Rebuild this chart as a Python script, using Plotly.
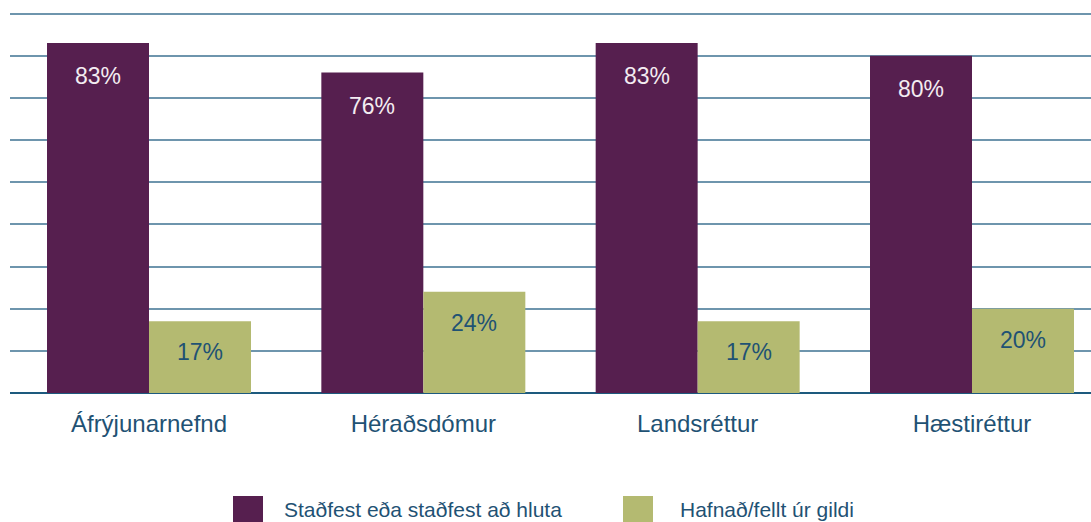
import plotly.graph_objects as go

categories = ["Áfrýjunarnefnd", "Héraðsdómur", "Landsréttur", "Hæstiréttur"]
confirmed = [83, 76, 83, 80]
rejected = [17, 24, 17, 20]
series_names = ["Staðfest eða staðfest að hluta", "Hafnað/fellt úr gildi"]
y_ticks = [0, 10, 20, 30, 40, 50, 60, 70, 80, 90]

PURPLE = "#561f4f"
GREEN = "#b4ba71"
BLUE_TEXT = "#1f5274"
FONT = "Liberation Sans, Arial, sans-serif"

W, H = 1091, 522
L, T, B = 10, 11, 129
PW, PH = W - L, H - T - B  # plot area size in px
YMAX = 90 * PH / 379.5

fig = go.Figure()
fig.add_trace(go.Bar(x=categories, y=confirmed, name=series_names[0],
                     marker=dict(color=PURPLE, line=dict(width=0)), showlegend=False))
fig.add_trace(go.Bar(x=categories, y=rejected, name=series_names[1],
                     marker=dict(color=GREEN, line=dict(width=0)), showlegend=False))

annotations = []
off = 0.186
for i, (a, b) in enumerate(zip(confirmed, rejected)):
    annotations.append(dict(x=i - off, y=a, xref="x", yref="y", text=f"{a}%",
                            showarrow=False, yshift=-33, yanchor="middle",
                            font=dict(family=FONT, size=23, color="#f3ecf1")))
    annotations.append(dict(x=i + off, y=b, xref="x", yref="y", text=f"{b}%",
                            showarrow=False, yshift=-31, yanchor="middle",
                            font=dict(family=FONT, size=23, color=BLUE_TEXT)))

# custom legend (large square swatches)
def px_x(v):
    return (v - L) / PW

def px_y(v):
    return (H - B - v) / PH

legend_items = [(233, PURPLE, 282, series_names[0]), (623, GREEN, 678, series_names[1])]
shapes = []
for sx, col, tx, name in legend_items:
    shapes.append(dict(type="rect", xref="paper", yref="paper",
                       x0=px_x(sx), x1=px_x(sx + 30),
                       y0=px_y(496), y1=px_y(528),
                       fillcolor=col, line=dict(width=0)))
    annotations.append(dict(x=px_x(tx), y=px_y(509), xref="paper", yref="paper",
                            text=name, showarrow=False, xanchor="left", yanchor="middle",
                            font=dict(family=FONT, size=21, color=BLUE_TEXT)))

fig.update_layout(
    width=W, height=H,
    margin=dict(l=L, r=0, t=T, b=B, pad=0),
    paper_bgcolor="white", plot_bgcolor="white",
    barmode="group", bargap=0.2564, bargroupgap=0,
    font=dict(family=FONT, color=BLUE_TEXT),
    xaxis=dict(range=[-0.5067, 3.4338], showgrid=False, showline=False, ticks="",
               tickfont=dict(family=FONT, size=24, color=BLUE_TEXT), ticklabelstandoff=14),
    yaxis=dict(range=[0, YMAX], tickvals=y_ticks, showticklabels=False, showgrid=True,
               gridcolor="#6e95ad", gridwidth=2, zeroline=True, zerolinecolor="#1d5a7e",
               zerolinewidth=2, showline=False),
    shapes=shapes,
    annotations=annotations,
)

fig.write_html("out.html", config={"displayModeBar": False},
               post_script="document.body.style.margin='0';document.body.style.overflow='hidden';")
